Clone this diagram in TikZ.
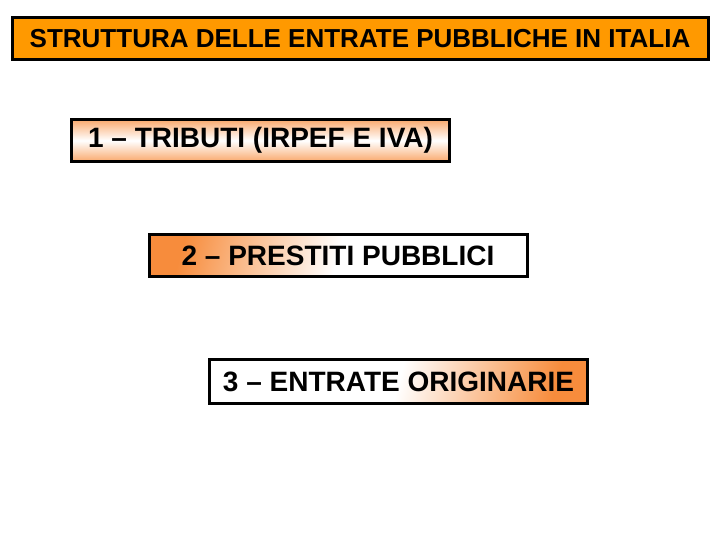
\documentclass[tikz,border=0pt]{standalone}
\usepackage{fontspec}
\setmainfont{Liberation Sans}
\begin{document}
\begin{tikzpicture}[x=1pt,y=-1pt]
    \definecolor{titleorange}{RGB}{255,153,0}
    \definecolor{softorange}{RGB}{247,140,60}
    \tikzstyle{every node}+=[inner sep=0pt, font=\bfseries]
    \tikzstyle{voce}=[draw=black, line width=3pt, minimum height=42pt, minimum width=378pt, font=\fontsize{28}{32}\selectfont\bfseries]
    \useasboundingbox (0,0) rectangle (720,540);
    \node [draw=black, line width=3pt, fill=titleorange, minimum width=696pt, minimum height=42pt, font=\fontsize{26}{30}\selectfont\bfseries] (titolo) at (360,39) {STRUTTURA DELLE ENTRATE PUBBLICHE IN ITALIA};
    \node [voce, top color=softorange!75, bottom color=softorange!75, middle color=white] (tributi) at (260.5,140.5) {1 -- TRIBUTI (IRPEF E IVA)};
    \node [voce, top color=softorange, bottom color=white, middle color=white, shading angle=75] (prestiti) at (338,255.5) {2 -- PRESTITI PUBBLICI};
    \node [voce, top color=white, bottom color=softorange, middle color=white, shading angle=75, minimum height=44pt] (originarie) at (398.5,381.5) {3 -- ENTRATE ORIGINARIE};
\end{tikzpicture}
\end{document}
